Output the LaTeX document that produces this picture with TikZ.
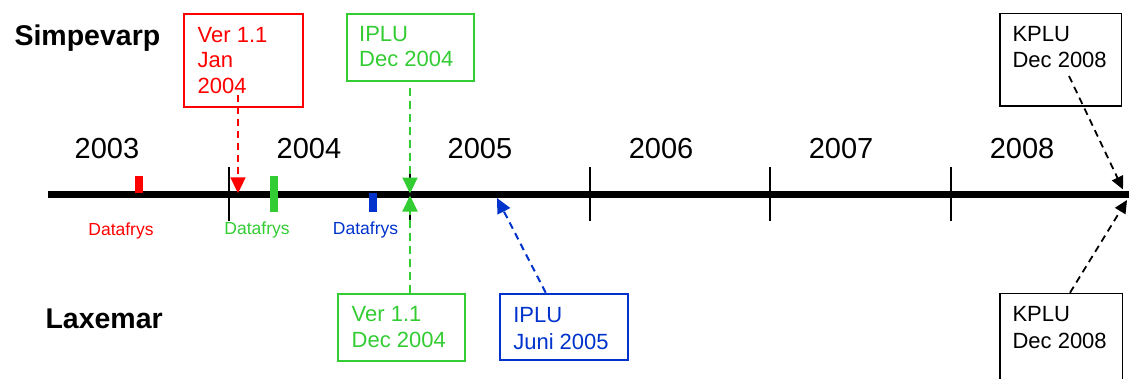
\documentclass[tikz,border=0pt]{standalone}
\usepackage{fontspec}
\setmainfont{Liberation Sans}
\usetikzlibrary{arrows.meta}
\definecolor{cred}{RGB}{255,0,0}
\definecolor{cgreen}{RGB}{51,204,51}
\definecolor{cblue}{RGB}{0,51,204}
\newcommand\boxtxt[5]{\parbox[t][#2][t]{#1}{\leftskip=#3\relax\rule{0pt}{#4}#5}}
\tikzset{
  tlsty/.style={line width=7.5pt},
  ticksty/.style={line width=1.5pt},
  mk/.style={fill, draw=none, inner sep=0pt, minimum width=8pt},
  bx/.style={draw, line width=2pt, inner sep=0pt, anchor=north west, font=\fontsize{22}{26}\selectfont},
  yr/.style={anchor=base, font=\fontsize{29}{29}\selectfont},
  df/.style={anchor=base, font=\fontsize{17.5}{18}\selectfont},
  site/.style={anchor=base west, font=\bfseries\fontsize{28.5}{30}\selectfont},
  con/.style={line width=2pt, dash pattern=on 7pt off 5pt, -{Triangle[width=15pt,length=16pt]}},
  kcon/.style={line width=1.8pt, dash pattern=on 7pt off 5pt, -{Triangle[width=12pt,length=13pt]}},
}
\begin{document}
\begin{tikzpicture}[x=1pt,y=-1pt]
\useasboundingbox (0,0) rectangle (1129,378);
% timeline
\coordinate (tlS) at (48,194.5);
\coordinate (tlE) at (1140,194.5);
\draw[tlsty] (tlS) -- (tlE);
\foreach \x/\n in {229/a,410/b,590/c,770/d,951/e}{
  \coordinate (t\n top) at (\x,167);
  \coordinate (t\n bot) at (\x,221);
  \draw[ticksty] (t\n top) -- (t\n bot);
}
% years
\node[yr] (y3) at (107,158) {2003};
\node[yr] (y4) at (309,158) {2004};
\node[yr] (y5) at (480,158) {2005};
\node[yr] (y6) at (661,158) {2006};
\node[yr] (y7) at (841,158) {2007};
\node[yr] (y8) at (1022,158) {2008};
% site labels
\node[site] (simp) at (11,45) {Simpevarp};
\node[site] (lax) at (42,328) {Laxemar};
% markers
\node[mk, fill=cred, minimum height=17pt] (mr) at (138.7,184.5) {};
\node[mk, fill=cgreen, minimum height=36pt] (mg) at (274,194) {};
\node[mk, fill=cblue, minimum height=19pt] (mb) at (373.3,202.5) {};
\node[df, text=cred] (dr) at (121,235) {Datafrys};
\node[df, text=cgreen] (dg) at (257,234) {Datafrys};
\node[df, text=cblue] (db) at (365.5,234) {Datafrys};
% boxes
\node[bx, draw=cred, text=cred, font=\fontsize{22}{25.8}\selectfont] (vr) at (183.3,13.3)
  {\boxtxt{118.4pt}{92.7pt}{13.4pt}{27.7pt}{Ver 1.1\\Jan\\2004}};
\node[bx, draw=cgreen, text=cgreen, font=\fontsize{22}{25}\selectfont] (ipg) at (345.7,13.3)
  {\boxtxt{127.6pt}{66.7pt}{12.5pt}{27.4pt}{IPLU\\Dec 2004}};
\node[bx, draw=cgreen, text=cgreen, font=\fontsize{22}{26}\selectfont] (vg) at (337.3,293.3)
  {\boxtxt{127pt}{66.7pt}{13.4pt}{27.4pt}{Ver 1.1\\Dec 2004}};
\node[bx, draw=cblue, text=cblue, font=\fontsize{22}{27}\selectfont] (ipb) at (499.3,292.7)
  {\boxtxt{127.4pt}{66.6pt}{13pt}{28.3pt}{IPLU\\Juni 2005}};
\node[bx, line width=1.5pt, font=\fontsize{22}{26}\selectfont] (kt) at (999.3,12.7)
  {\boxtxt{121.4pt}{92.6pt}{12.5pt}{28pt}{KPLU\\Dec 2008}};
\node[bx, line width=1.5pt, font=\fontsize{22}{26.7}\selectfont] (kb) at (999.3,292.7)
  {\boxtxt{122.4pt}{100pt}{12.5pt}{28.3pt}{KPLU\\Dec 2008}};
% connector end points
\coordinate (rs) at (238,95);
\coordinate (re) at (238,193.3);
\coordinate (gs) at (410,88);
\coordinate (ge) at (410,193.5);
\coordinate (ge2) at (410,195.5);
\coordinate (be) at (497,198);
\coordinate (ks) at (1069,76);
\coordinate (ke) at (1123,189.5);
\coordinate (ke2) at (1127,200);
% connectors
\draw[con, cred] (rs) -- (re);
\draw[con, cgreen, line width=2.2pt, dash pattern=on 8pt off 5pt] (gs) -- (ge);
\draw[con, cgreen, line width=2.2pt, dash pattern=on 8pt off 5pt] (vg.north -| gs) -- (ge2);
\draw[con, cblue, -{Triangle[width=14pt,length=15pt]}] (ipb.north -| 545.7,0) -- (be);
\draw[kcon] (ks) -- (ke);
\draw[kcon] (kb.north -| 1070,0) -- (ke2);
\end{tikzpicture}
\end{document}
